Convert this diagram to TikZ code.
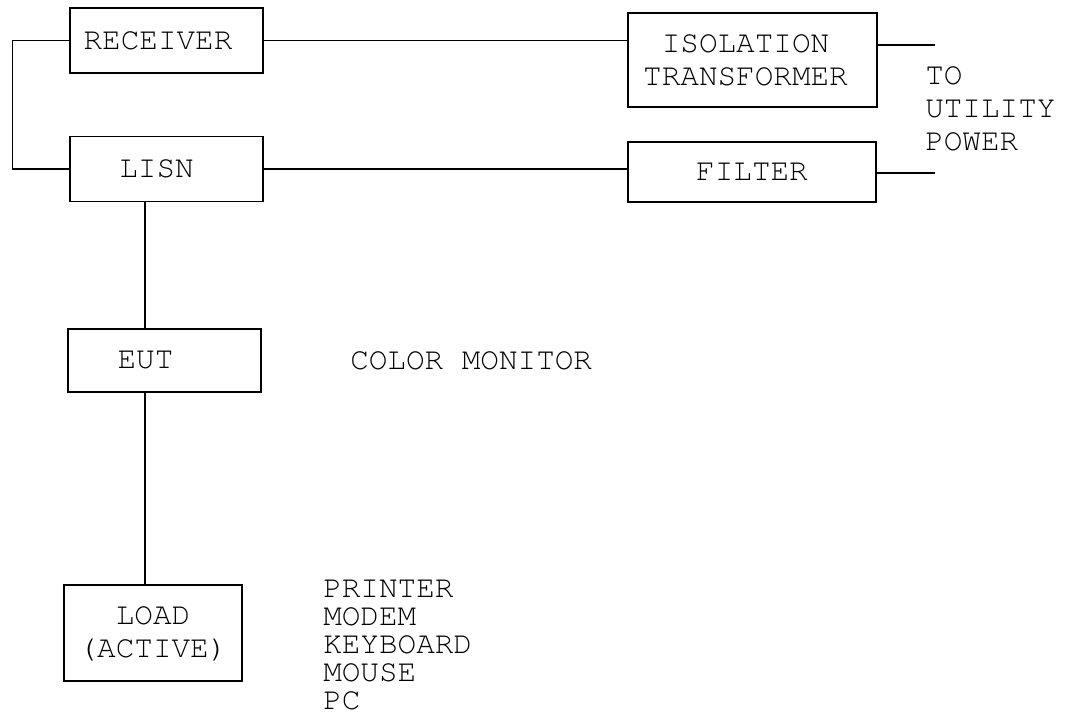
\documentclass[tikz,border=0pt]{standalone}
\usepackage[T1]{fontenc}
\usepackage{courier}
\begin{document}
\begin{tikzpicture}[x=0.75pt,y=-0.75pt,
  every node/.style={font=\ttfamily\fontsize{23.25pt}{24.75pt}\selectfont},
  blk/.style={draw,line width=1.1pt,inner sep=0pt,align=center},
  lbl/.style={anchor=base west,inner sep=0pt},
  wire/.style={line width=1.1pt}]
\useasboundingbox (0,0) rectangle (1072,727);
% boxes
\node[blk,minimum width=144.75pt,minimum height=48.75pt] (rec) at (166.5,40.5) {RECEIVER\hspace*{12.75pt}};
\node[blk,minimum width=144.75pt,minimum height=48.75pt] (lisn) at (166.5,169) {LISN\hspace*{15pt}};
\node[blk,minimum width=144.75pt,minimum height=47.25pt] (eut) at (164.5,360.5) {EUT\hspace*{28.5pt}};
\node[blk,minimum width=133.5pt,minimum height=72pt] (load) at (153,633) {LOAD\\(ACTIVE)};
\node[blk,minimum width=186.75pt,minimum height=70.5pt] (iso) at (752.5,60) {ISOLATION\hspace*{10.5pt}\\TRANSFORMER\hspace*{10.5pt}};
\node[blk,minimum width=186pt,minimum height=45pt] (fil) at (752,172) {FILTER};
% free ends
\coordinate (isoout) at (935,45);
\coordinate (filout) at (935,173);
\coordinate (vx) at (145,0);
% wires
\draw[wire] (rec.east) -- (rec.east -| iso.west);
\draw[wire] (lisn.east) -- (lisn.east -| fil.west);
\draw[wire] (rec.west) -- ++(-57,0) |- (lisn.west);
\draw[wire] (iso.east |- isoout) -- (isoout);
\draw[wire] (fil.east |- filout) -- (filout);
\draw[wire] (lisn.south -| vx) -- (eut.north -| vx);
\draw[wire] (eut.south -| vx) -- (load.north -| vx);
% labels
\node[lbl] (t1) at (925,85) {TO};
\node[lbl] (t2) at (925,118) {UTILITY};
\node[lbl] (t3) at (925,151) {POWER};
\node[lbl] (cm) at (350,370) {COLOR MONITOR};
\node[lbl] (l1) at (323,597) {PRINTER};
\node[lbl] (l2) at (323,625) {MODEM};
\node[lbl] (l3) at (323,653) {KEYBOARD};
\node[lbl] (l4) at (323,681) {MOUSE};
\node[lbl] (l5) at (323,709) {PC};
\end{tikzpicture}
\end{document}
